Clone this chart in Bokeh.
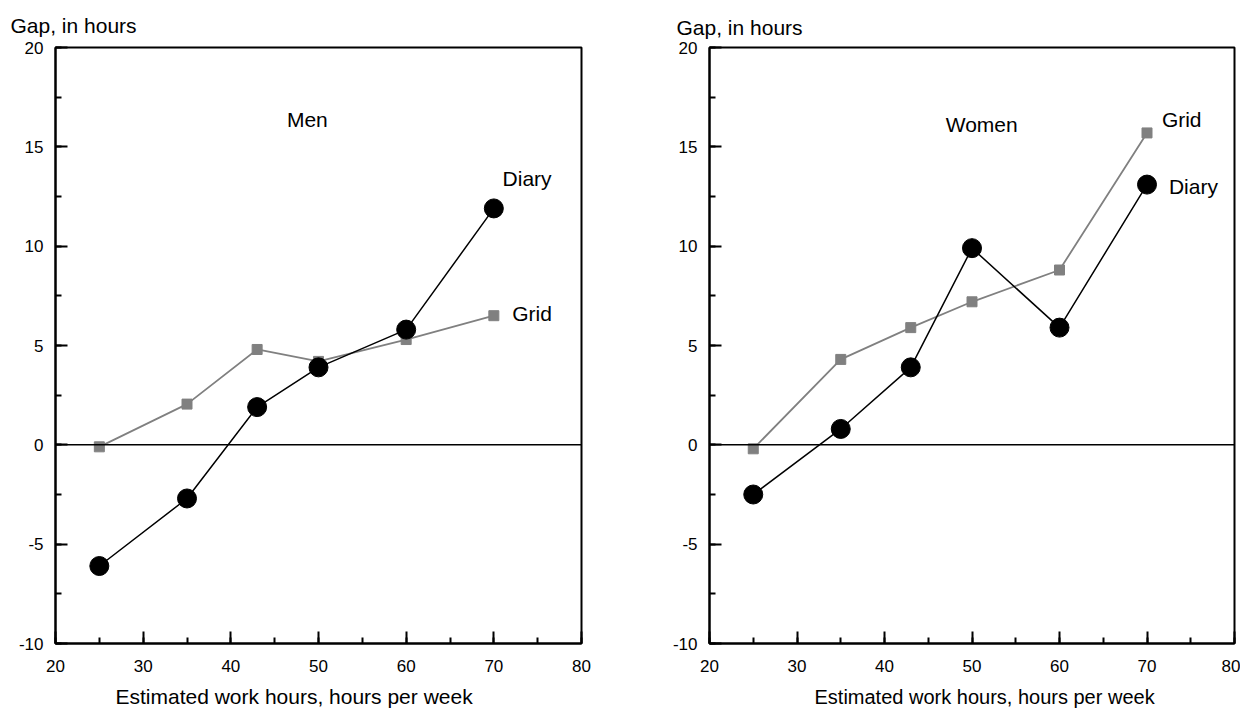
from bokeh.plotting import figure
from bokeh.models import Range1d, SingleIntervalTicker, Span, Title, Row, PrintfTickFormatter
from bokeh.core.properties import value
from bokeh.embed import file_html
from bokeh.resources import INLINE

hours = [25, 35, 43, 50, 60, 70]
men_diary = [-6.1, -2.7, 1.9, 3.9, 5.8, 11.9]
men_grid = [-0.1, 2.05, 4.8, 4.2, 5.3, 6.5]
women_diary = [-2.5, 0.8, 3.9, 9.9, 5.9, 13.1]
women_grid = [-0.2, 4.3, 5.9, 7.2, 8.8, 15.7]

y_title = "Gap, in hours"
x_title = "Estimated work hours, hours per week"
FONT = "Liberation Sans"
GRAY = "#808080"


def make_panel(diary, grid, labels, width, border_left, border_top, border_right,
               yt_offset, yt_standoff, xt_offset, xt_standoff, xt_size):
    p = figure(width=width, height=717, output_backend="svg", toolbar_location=None,
               x_range=Range1d(20, 80), y_range=Range1d(-10, 20),
               min_border_left=border_left, min_border_top=border_top,
               min_border_right=border_right, min_border_bottom=73)
    p.grid.visible = False
    p.outline_line_color = "black"
    p.outline_line_width = 2
    p.background_fill_color = "white"
    p.border_fill_color = "white"

    p.xaxis.ticker = SingleIntervalTicker(interval=10, num_minor_ticks=2)
    p.yaxis.ticker = SingleIntervalTicker(interval=5, num_minor_ticks=2)
    for ax in (p.xaxis, p.yaxis):
        ax.axis_line_width = 2
        ax.axis_line_color = "black"
        ax.major_tick_in = 12
        ax.major_tick_out = 0
        ax.minor_tick_in = 6
        ax.minor_tick_out = 0
        ax.major_tick_line_width = 2
        ax.minor_tick_line_width = 2
        ax.major_label_text_font = FONT
        ax.major_label_text_font_size = "17px"
        ax.major_label_text_color = "black"
        ax.formatter = PrintfTickFormatter(format="%d")
    p.xaxis.major_label_standoff = 16
    p.yaxis.major_label_standoff = 12

    p.add_layout(Span(location=0, dimension="width", line_color="black", line_width=1.5))

    p.line(hours, grid, line_color=GRAY, line_width=1.8)
    p.scatter(hours, grid, marker="square", size=10, fill_color=GRAY, line_color=GRAY)
    p.line(hours, diary, line_color="black", line_width=1.5)
    p.scatter(hours, diary, marker="circle", size=19, fill_color="black", line_color="black")

    lx, ly, lt = labels
    p.text(lx, ly, text=lt, text_font=value(FONT), text_font_size="21px",
           text_align="left", text_baseline="middle", text_color="black")

    p.add_layout(Title(text=y_title, align="left", offset=yt_offset, standoff=yt_standoff,
                       text_font=FONT, text_font_size="21px", text_font_style="normal",
                       text_color="black"), "above")
    p.add_layout(Title(text=x_title, align="left", offset=xt_offset, standoff=xt_standoff,
                       text_font=FONT, text_font_size=xt_size, text_font_style="normal",
                       text_color="black", text_line_height=0.7), "below")
    return p


left_labels = ([46.4, 71.0, 72.1], [16.4, 13.4, 6.6], ["Men", "Diary", "Grid"])
right_labels = ([47.0, 71.7, 72.5], [16.1, 16.4, 13.0], ["Women", "Grid", "Diary"])

p1 = make_panel(men_diary, men_grid, left_labels, 640, 55, 45, 59, -45, 21, 60, 16, "21px")
p2 = make_panel(women_diary, women_grid, right_labels, 600, 69, 47, 6, -33, 17, 105, 19, "20px")

layout = Row(p1, p2)
open("out.html", "w").write(file_html(layout, INLINE))
